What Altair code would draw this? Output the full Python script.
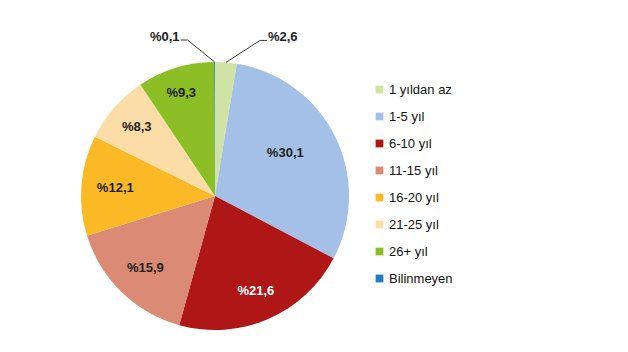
import altair as alt
import pandas as pd
import numpy as np

categories = ["1 yıldan az", "1-5 yıl", "6-10 yıl", "11-15 yıl",
              "16-20 yıl", "21-25 yıl", "26+ yıl", "Bilinmeyen"]
values = [2.6, 30.1, 21.6, 15.9, 12.1, 8.3, 9.3, 0.1]
colors = ["#CFE3A5", "#A4C0E6", "#AF1616", "#DA8A75",
          "#FBBA25", "#FCDDA8", "#8CBF26", "#1F7AC4"]

labels = ["%" + f"{v:.1f}".replace(".", ",") for v in values]

df = pd.DataFrame({"cat": categories, "val": values,
                   "idx": list(range(len(values))), "label": labels})

CX, CY, R = 215, 196, 134
FONT = "Liberation Sans"

# leader lines for the thin slices, derived from the slice angles
cum = np.cumsum(values)
start = cum - np.array(values)
mid = (start + np.array(values) / 2) / cum[-1] * 2 * np.pi
seg_rows, out_rows = [], []
for i, v in enumerate(values):
    if v >= 5:
        continue
    ex = CX + R * np.sin(mid[i])
    ey = CY - R * np.cos(mid[i])
    left = np.sin(mid[i]) < 0
    bx = ex + (-27 if left else 34)
    by = ey - 22
    hx = bx + (-7 if left else 7)
    seg_rows.append({"x": ex, "y": ey, "x2": bx, "y2": by})
    seg_rows.append({"x": bx, "y": by, "x2": hx, "y2": by})
    out_rows.append({"x": hx + (-1 if left else 1), "y": by + 0.5,
                     "label": labels[i], "align": "right" if left else "left"})
seg = pd.DataFrame(seg_rows)
outl = pd.DataFrame(out_rows)

color_scale = alt.Scale(domain=categories, range=colors)

base = alt.Chart(df).encode(
    theta=alt.Theta("val:Q", stack=True),
    order=alt.Order("idx:Q"),
)

pie = base.mark_arc(outerRadius=R).encode(
    x=alt.value(CX), y=alt.value(CY),
    color=alt.Color("cat:N", scale=color_scale, sort=categories,
                    legend=alt.Legend(title=None, orient="none",
                                      legendX=373, legendY=83,
                                      symbolType="square", symbolSize=60,
                                      symbolStrokeWidth=0,
                                      labelFont=FONT, labelFontSize=13,
                                      labelColor="#111111", labelOffset=3,
                                      rowPadding=13, padding=0)),
)


def text_layer(cond, radius, color, dx=0, dy=0):
    return base.mark_text(radius=radius, font=FONT, fontSize=13,
                          fontWeight="bold", color=color, dx=dx, dy=dy).encode(
        x=alt.value(CX), y=alt.value(CY),
        text=alt.condition(cond, alt.Text("label:N"), alt.value("")),
    )


t_main = text_layer("datum.cat == '11-15 yıl' || datum.cat == '16-20 yıl'", 100, "#1E1E1E")
t_83 = text_layer("datum.cat == '21-25 yıl'", 104, "#1E1E1E")
t_93 = text_layer("datum.cat == '26+ yıl'", 108, "#1E1E1E", dx=-2)
t_big = text_layer("datum.cat == '1-5 yıl'", 83, "#1E1E1E", dx=-4, dy=-6)
t_white = text_layer("datum.cat == '6-10 yıl'", 103, "#FFFFFF")

rules = alt.Chart(seg).mark_rule(color="#3A3A3A", strokeWidth=1).encode(
    x=alt.X("x:Q", scale=None), y=alt.Y("y:Q", scale=None),
    x2="x2:Q", y2="y2:Q",
)

out_left = alt.Chart(outl).transform_filter("datum.align == 'right'").mark_text(
    font=FONT, fontSize=13, fontWeight="bold", color="#1E1E1E",
    align="right", baseline="alphabetic").encode(
    x=alt.X("x:Q", scale=None), y=alt.Y("y:Q", scale=None), text="label:N")
out_right = alt.Chart(outl).transform_filter("datum.align == 'left'").mark_text(
    font=FONT, fontSize=13, fontWeight="bold", color="#1E1E1E",
    align="left", baseline="alphabetic").encode(
    x=alt.X("x:Q", scale=None), y=alt.Y("y:Q", scale=None), text="label:N")

chart = alt.layer(pie, t_main, t_83, t_93, t_big, t_white, rules,
                  out_left, out_right).properties(
    width=628, height=352, padding=0,
    autosize=alt.AutoSizeParams(type="none"),
    background="#FFFFFF",
).configure_view(stroke=None)

chart.save("out.html", embed_options={"renderer": "svg", "actions": False})
